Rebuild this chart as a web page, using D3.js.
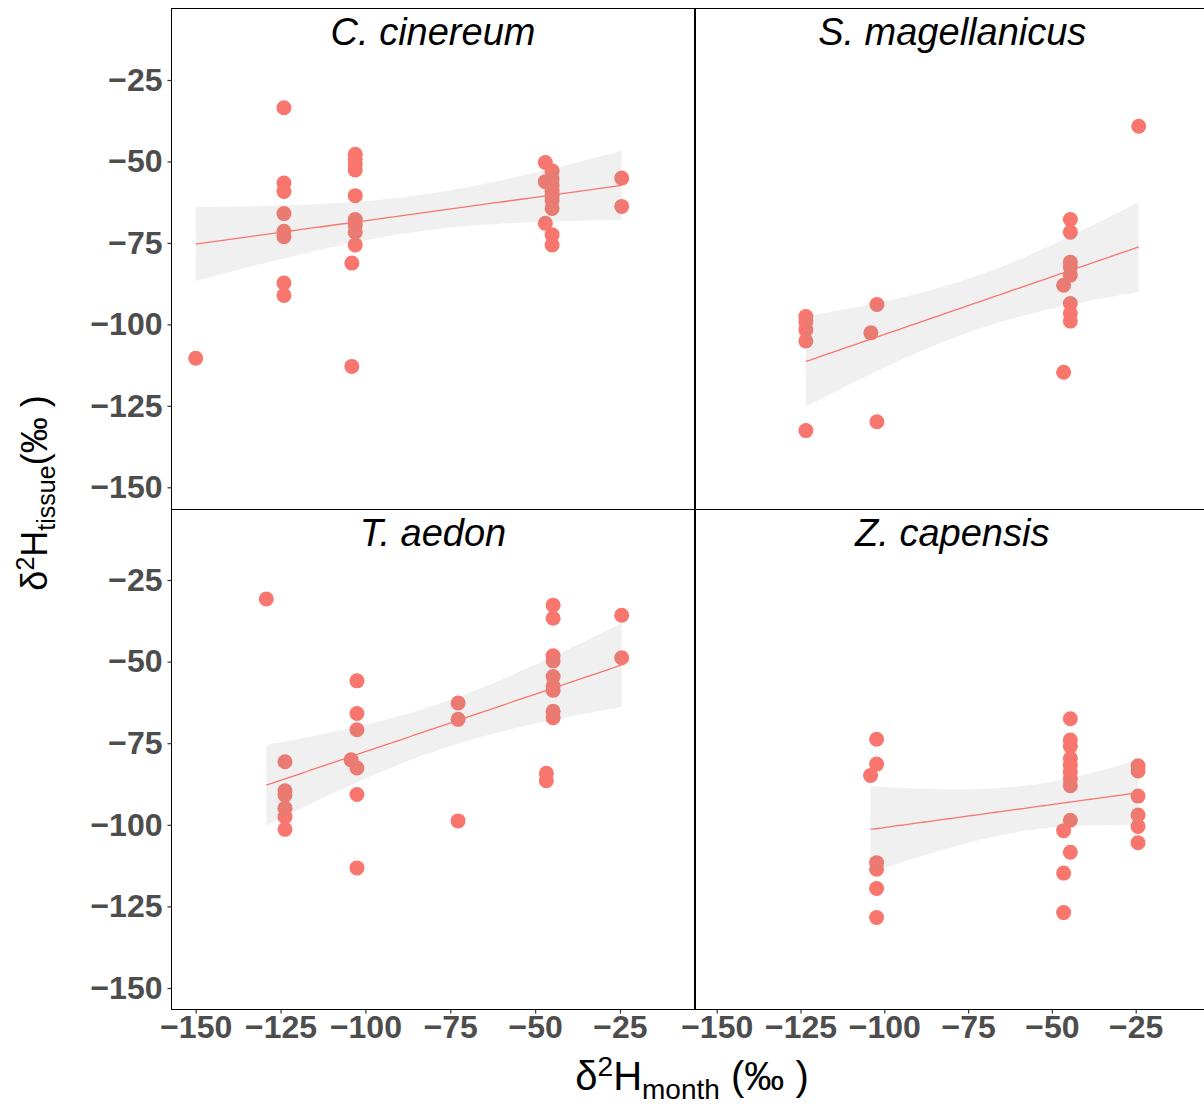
<!DOCTYPE html>
<html>
<meta charset="utf-8">
<style>
  body {
    margin: 0;
    background-color: #fff;
  }
  text {
    font-family: "Liberation Sans", Arial, sans-serif;
  }
  .tick text {
    font-size: 32px;
    font-weight: bold;
    fill: #4d4d4d;
  }
  .tick line {
    stroke: #333;
    stroke-width: 1.2;
  }
  .strip {
    font-size: 38px;
    font-style: italic;
    fill: #000;
  }
  .axis-title {
    fill: #000;
  }
</style>
<body>
<script src="https://cdn.jsdelivr.net/npm/d3@7/dist/d3.min.js"></script>
<script>

// species (facet) names
var species = ['C. cinereum', 'S. magellanicus', 'T. aedon', 'Z. capensis'];

// d2H month (x) and d2H tissue (y)
var cinereumX = [-150, -124, -124, -124, -124, -124, -124, -124, -124,
  -103, -103, -103, -103, -103, -103, -103, -103, -103, -104, -104,
  -45, -45, -45, -45, -45, -45, -45, -45, -45, -47, -47, -47, -24.5, -24.5];
var cinereumY = [-110.4, -33.5, -56.6, -59.2, -66.0, -71.4, -73.1, -87.3, -91.1,
  -47.8, -49.3, -50.8, -52.6, -60.5, -67.8, -69.4, -71.7, -75.6, -81.2, -112.9,
  -52.9, -55.4, -57.4, -59.0, -60.5, -62.0, -64.4, -72.5, -75.6, -50.3, -56.2, -69.0, -55.1, -63.8];

var magellanicusX = [-24.1, -44.5, -44.5, -44.5, -44.5, -44.5, -44.5, -44.5, -44.5,
  -46.5, -46.5, -123.4, -123.4, -123.4, -123.4, -123.4, -102.2, -102.2, -104];
var magellanicusY = [-39.2, -67.8, -71.7, -80.9, -82.4, -84.9, -93.6, -96.6, -99.0,
  -88.0, -114.7, -97.6, -99.2, -101.7, -105.1, -132.6, -93.9, -129.9, -102.6];

var aedonX = [-129.2, -123.7, -123.7, -123.7, -123.7, -123.7, -123.7,
  -102.5, -102.5, -102.5, -102.5, -102.5, -102.5, -104.2, -72.7, -72.7, -72.7,
  -44.7, -44.7, -44.7, -44.7, -44.7, -44.7, -44.7, -44.7, -44.7, -46.7, -46.7, -24.5, -24.5];
var aedonY = [-30.8, -80.7, -89.6, -90.9, -94.9, -97.5, -101.4,
  -55.9, -65.9, -70.9, -82.6, -90.7, -113.2, -80.1, -62.7, -67.7, -98.8,
  -32.7, -36.7, -48.2, -49.8, -54.6, -57.5, -58.8, -65.2, -67.2, -84.2, -86.5, -35.8, -48.8];

var capensisX = [-102.3, -102.3, -102.3, -102.3, -102.3, -102.3, -104.1,
  -44.5, -44.5, -44.5, -44.5, -44.5, -44.5, -44.5, -44.5, -44.5, -44.5,
  -46.5, -46.5, -46.5, -24.3, -24.3, -24.3, -24.3, -24.3, -24.3];
var capensisY = [-73.8, -81.4, -111.6, -113.6, -119.5, -128.4, -84.9,
  -67.5, -74.0, -75.9, -79.6, -81.7, -83.8, -85.9, -88.0, -98.6, -108.4,
  -101.8, -114.8, -126.9, -81.9, -83.5, -91.2, -97.0, -100.5, -105.5];

var xTicks = [-150, -125, -100, -75, -50, -25];
var yTicks = [-150, -125, -100, -75, -50, -25];

var seriesX = [cinereumX, magellanicusX, aedonX, capensisX];
var seriesY = [cinereumY, magellanicusY, aedonY, capensisY];

var width = 1204;
var height = 1106;
var pointColor = '#F8766D';

// panel frames (column x edges, row y edges)
var colEdges = [[171.5, 694.5], [695.5, 1210]];
var rowEdges = [[8.5, 509.5], [509.5, 1009.5]];
// pixel position of the -150 and -25 ticks in each column / row
var colTicks = [[195.7, 620], [716.7, 1135.7]];
var rowTicks = [[487.3, 80], [988, 580]];

var svg = d3.select('body')
  .append('svg')
  .attr('width', width)
  .attr('height', height);

// t quantile (0.975) via Cornish-Fisher expansion, good enough for df > 10
function tq(df) {
  var z = 1.959964;
  return z + (Math.pow(z, 3) + z) / (4 * df) +
    (5 * Math.pow(z, 5) + 16 * Math.pow(z, 3) + 3 * z) / (96 * df * df);
}

// lm fit with 95% confidence band, like geom_smooth(method = 'lm')
function smooth(xs, ys) {
  var n = xs.length;
  var mx = d3.mean(xs), my = d3.mean(ys);
  var sxx = 0, sxy = 0;
  for (var i = 0; i < n; i++) {
    sxx += (xs[i] - mx) * (xs[i] - mx);
    sxy += (xs[i] - mx) * (ys[i] - my);
  }
  var b = sxy / sxx;
  var a = my - b * mx;
  var rss = 0;
  for (var j = 0; j < n; j++) {
    var r = ys[j] - (a + b * xs[j]);
    rss += r * r;
  }
  var s = Math.sqrt(rss / (n - 2));
  var t = tq(n - 2);
  var ext = d3.extent(xs);
  var out = [];
  for (var k = 0; k < 80; k++) {
    var x0 = ext[0] + (ext[1] - ext[0]) * k / 79;
    var fit = a + b * x0;
    var se = s * Math.sqrt(1 / n + (x0 - mx) * (x0 - mx) / sxx);
    out.push({x: x0, y: fit, lo: fit - t * se, hi: fit + t * se});
  }
  return out;
}

species.forEach(function(name, i) {
  var col = i % 2;
  var row = Math.floor(i / 2);
  var x0 = colEdges[col][0], x1 = colEdges[col][1];
  var y0 = rowEdges[row][0], y1 = rowEdges[row][1];

  var x = d3.scaleLinear().domain([-150, -25]).range(colTicks[col]);
  var y = d3.scaleLinear().domain([-150, -25]).range(rowTicks[row]);

  var clipId = 'clip' + i;
  svg.append('clipPath')
    .attr('id', clipId)
    .append('rect')
    .attr('x', x0).attr('y', y0)
    .attr('width', x1 - x0).attr('height', y1 - y0);

  var g = svg.append('g').attr('clip-path', 'url(#' + clipId + ')');

  var pts = seriesX[i].map(function(d, k) {
    return {x: d, y: seriesY[i][k]};
  });

  g.selectAll('circle')
    .data(pts)
    .enter()
    .append('circle')
    .attr('cx', function(d) { return x(d.x); })
    .attr('cy', function(d) { return y(d.y); })
    .attr('r', 7.5)
    .style('fill', pointColor);

  var band = smooth(seriesX[i], seriesY[i]);

  g.append('path')
    .datum(band)
    .attr('d', d3.area()
      .x(function(d) { return x(d.x); })
      .y0(function(d) { return y(d.lo); })
      .y1(function(d) { return y(d.hi); }))
    .style('fill', '#999999')
    .style('fill-opacity', 0.15);

  g.append('path')
    .datum(band)
    .attr('d', d3.line()
      .x(function(d) { return x(d.x); })
      .y(function(d) { return y(d.y); }))
    .style('fill', 'none')
    .style('stroke', pointColor)
    .style('stroke-width', 1.3);

  // panel border
  svg.append('rect')
    .attr('x', x0).attr('y', y0)
    .attr('width', x1 - x0).attr('height', y1 - y0)
    .style('fill', 'none')
    .style('stroke', '#000')
    .style('stroke-width', 1);

  // strip title
  svg.append('text')
    .attr('class', 'strip')
    .attr('x', (x0 + Math.min(x1, 1209)) / 2)
    .attr('y', y0 + 36)
    .attr('text-anchor', 'middle')
    .text(name);

  if (col === 0) {
    var ya = svg.append('g')
      .attr('transform', 'translate(' + x0 + ',0)')
      .call(d3.axisLeft(y).tickValues(yTicks).tickSize(4).tickPadding(5)
        .tickFormat(function(d) { return '\u2212' + Math.abs(d); }));
    ya.select('.domain').remove();
  }
  if (row === 1) {
    var xa = svg.append('g')
      .attr('transform', 'translate(0,' + y1 + ')')
      .call(d3.axisBottom(x).tickValues(xTicks).tickSize(4).tickPadding(2)
        .tickFormat(function(d) { return '\u2212' + Math.abs(d); }));
    xa.select('.domain').remove();
  }
});

// axis titles
var xt = svg.append('text')
  .attr('class', 'axis-title')
  .attr('x', 692)
  .attr('y', 1090)
  .attr('text-anchor', 'middle')
  .style('font-size', '40px');
xt.append('tspan').text('\u03b4');
xt.append('tspan').attr('dy', -14).style('font-size', '28px').text('2');
xt.append('tspan').attr('dy', 14).text('H');
xt.append('tspan').attr('dy', 9).style('font-size', '28px').text('month');
xt.append('tspan').attr('dy', -9).text(' (\u2030 )');

var yt = svg.append('text')
  .attr('class', 'axis-title')
  .attr('transform', 'translate(47,493) rotate(-90)')
  .attr('text-anchor', 'middle')
  .style('font-size', '36px');
yt.append('tspan').text('\u03b4');
yt.append('tspan').attr('dy', -13).style('font-size', '25px').text('2');
yt.append('tspan').attr('dy', 13).text('H');
yt.append('tspan').attr('dy', 8).style('font-size', '25px').text('tissue');
yt.append('tspan').attr('dy', -8).text('(\u2030 )');

</script>
</body>
</html>
